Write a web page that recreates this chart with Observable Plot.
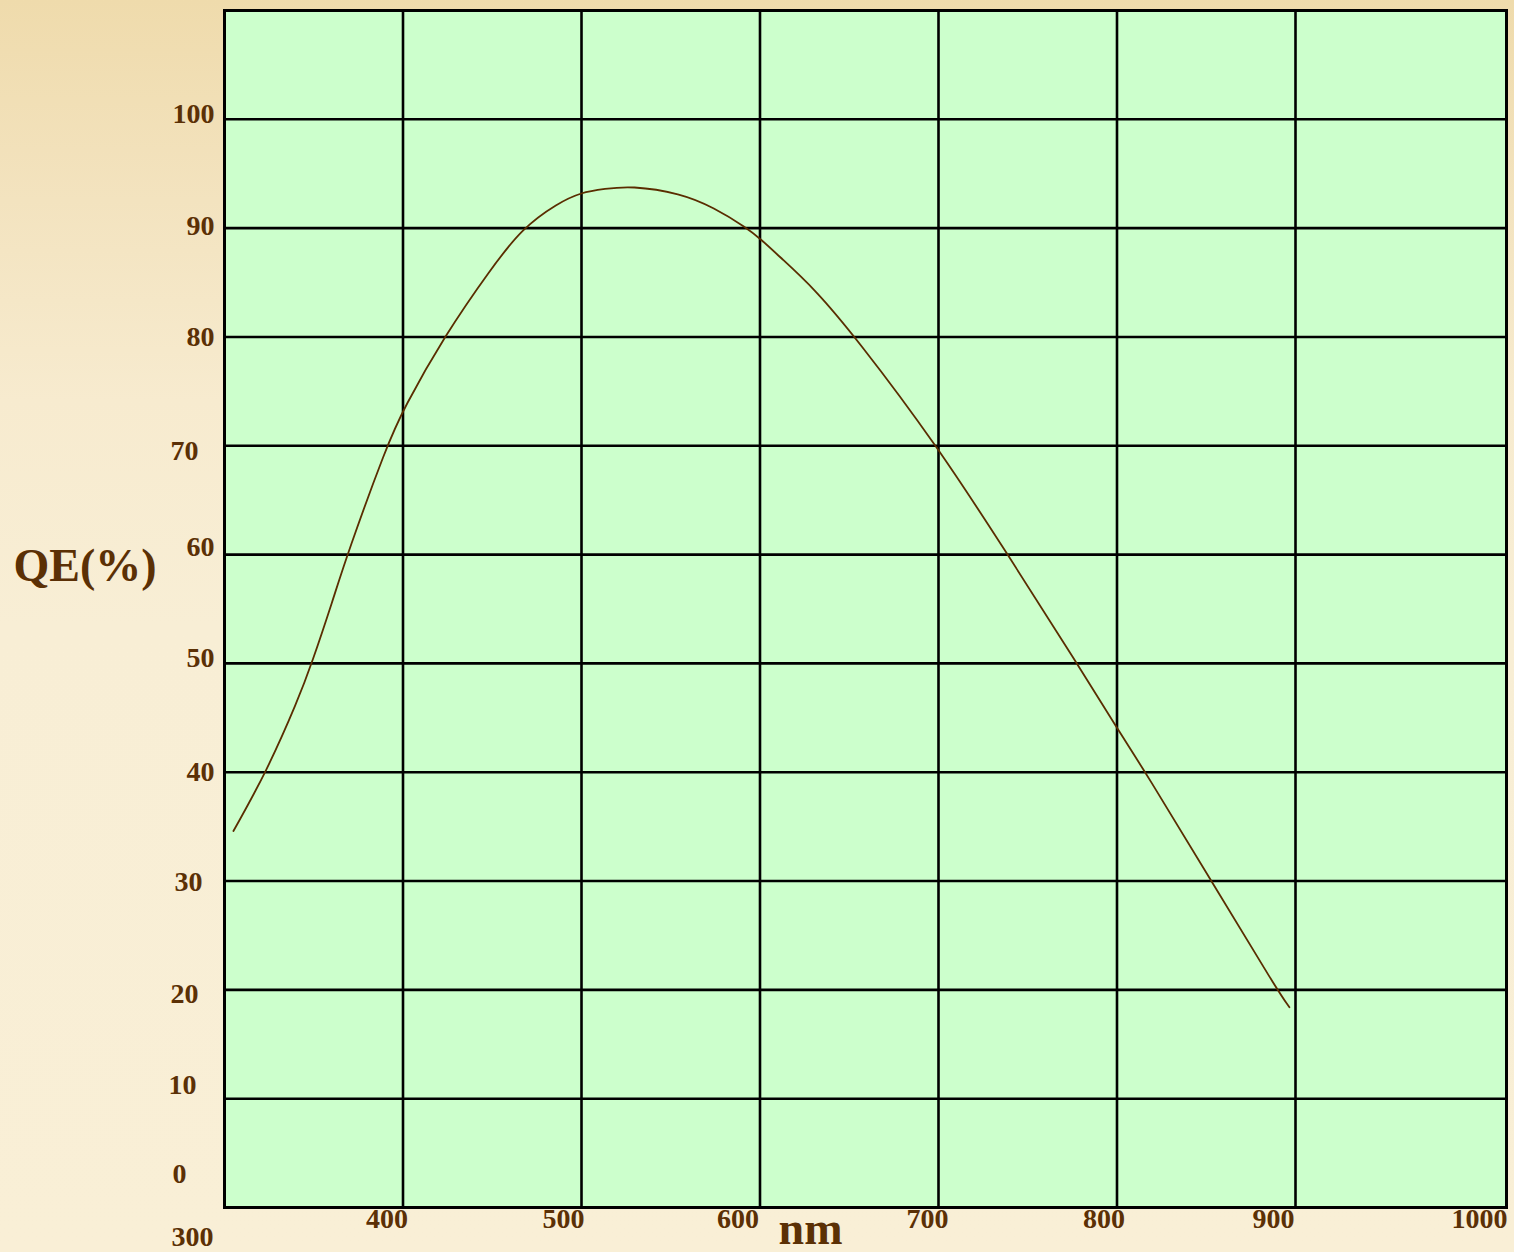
<!DOCTYPE html>
<html>
<head>
<meta charset="utf-8">
<title>QE(%) vs nm</title>
<script src="https://cdn.jsdelivr.net/npm/d3@7"></script>
<script src="https://cdn.jsdelivr.net/npm/@observablehq/plot@0.6"></script>
<style>
  html, body { margin: 0; padding: 0; }
  body {
    width: 1514px;
    height: 1252px;
    overflow: hidden;
    background: linear-gradient(to bottom, #efdbac 0%, #f3e3bf 16%, #f7ebcf 32%, #f8eed5 50%, #f9efd6 100%);
  }
  #chart { position: absolute; left: 0; top: 0; }
</style>
</head>
<body>
<div id="chart"></div>
<script>
// Quantum efficiency curve: wavelength (nm) and QE (%)
const wavelength = [305, 323.4, 341.1, 348.9, 360.7, 368.7, 390.9, 400.3, 423.2, 449.4, 466.8, 486.7, 500, 512.9, 527.5, 555.5, 574.1, 592.8, 600.3, 611.5, 630.1, 653.5, 699.3, 738.8, 777.7, 800.1, 816, 852.9, 890.1, 896.6];
const qe         = [34.6, 40.0, 46.6, 50.0, 55.8, 60.0, 70.0, 73.4, 80.1, 86.3, 90.0, 92.3, 93.3, 93.6, 93.9, 93.2, 91.9, 90.0, 89.0, 87.3, 84.5, 80.0, 70.0, 60.0, 50.0, 44.0, 40.0, 30.0, 19.9, 18.4];

// Grid lines and tick labels
const gridX = [400, 500, 600, 700, 800, 900];
const gridY = [10, 20, 30, 40, 50, 60, 70, 80, 90, 100];
const xTickLabels = [300, 400, 500, 600, 700, 800, 900, 1000];
const yTickLabels = [0, 10, 20, 30, 40, 50, 60, 70, 80, 90, 100];

const curve = wavelength.map((w, i) => ({nm: w, qe: qe[i]}));

// Hand placement of the tick labels (pixel offsets)
const yNudge = {
  100: {dx: -10, dy: -5}, 90: {dx: -10, dy: -2}, 80: {dx: -10, dy: 0},
  70: {dx: -26, dy: 5}, 60: {dx: -10, dy: -7.5}, 50: {dx: -10, dy: -5},
  40: {dx: -10, dy: 0}, 30: {dx: -22, dy: 1}, 20: {dx: -26, dy: 4},
  10: {dx: -28, dy: -14}, 0: {dx: -38, dy: -33}
};
const xNudge = {
  300: {dx: -11, dy: 30}, 400: {dx: 5, dy: 11.5}, 500: {dx: 3, dy: 11.5},
  600: {dx: -1, dy: 11.5}, 700: {dx: 10, dy: 11.5}, 800: {dx: 8, dy: 11.5},
  900: {dx: -1, dy: 11.5}, 1000: {dx: 33.5, dy: 11.5}
};

const ink = "#5b3005";
const labelFont = {fontFamily: "Liberation Serif", fontWeight: "bold", fill: ink};

const chart = Plot.plot({
  width: 1514,
  height: 1252,
  marginLeft: 224,
  marginRight: 8,
  marginTop: 10,
  marginBottom: 45,
  style: {background: "transparent", fontFamily: "Liberation Serif", overflow: "visible"},
  // 100 nm per 178.5 px; the last column runs on past 1000 to the frame edge
  x: {type: "linear", domain: [300, 1000], range: [224, 1473.5], axis: null},
  y: {domain: [0, 110], axis: null},
  marks: [
    Plot.frame({fill: "#ccffcc", stroke: "none"}),
    Plot.ruleX(gridX, {stroke: "#000", strokeWidth: 2.6}),
    Plot.ruleY(gridY, {stroke: "#000", strokeWidth: 2.6}),
    Plot.line(curve, {x: "nm", y: "qe", curve: "basis", stroke: "#5a2d00", strokeWidth: 1.8}),
    Plot.frame({stroke: "#000", strokeWidth: 3}),
    ...yTickLabels.map(v => Plot.text([v], {
      y: d => d, text: d => String(d), frameAnchor: "left",
      textAnchor: "end", lineAnchor: "middle", fontSize: 28,
      dx: yNudge[v].dx, dy: yNudge[v].dy, ...labelFont
    })),
    ...xTickLabels.map(v => Plot.text([v], {
      x: d => d, text: d => String(d), frameAnchor: "bottom",
      textAnchor: "end", lineAnchor: "middle", fontSize: 28,
      dx: xNudge[v].dx, dy: xNudge[v].dy, ...labelFont
    })),
    Plot.text(["nm"], {
      text: d => d, frameAnchor: "bottom", textAnchor: "middle", lineAnchor: "middle",
      fontSize: 46, dx: -55, dy: 22, ...labelFont
    }),
    Plot.text(["QE(%)"], {
      text: d => d, frameAnchor: "left", textAnchor: "start", lineAnchor: "middle",
      fontSize: 46, dx: -211, dy: -43, ...labelFont
    })
  ]
});

document.getElementById("chart").appendChild(chart);
</script>
</body>
</html>
